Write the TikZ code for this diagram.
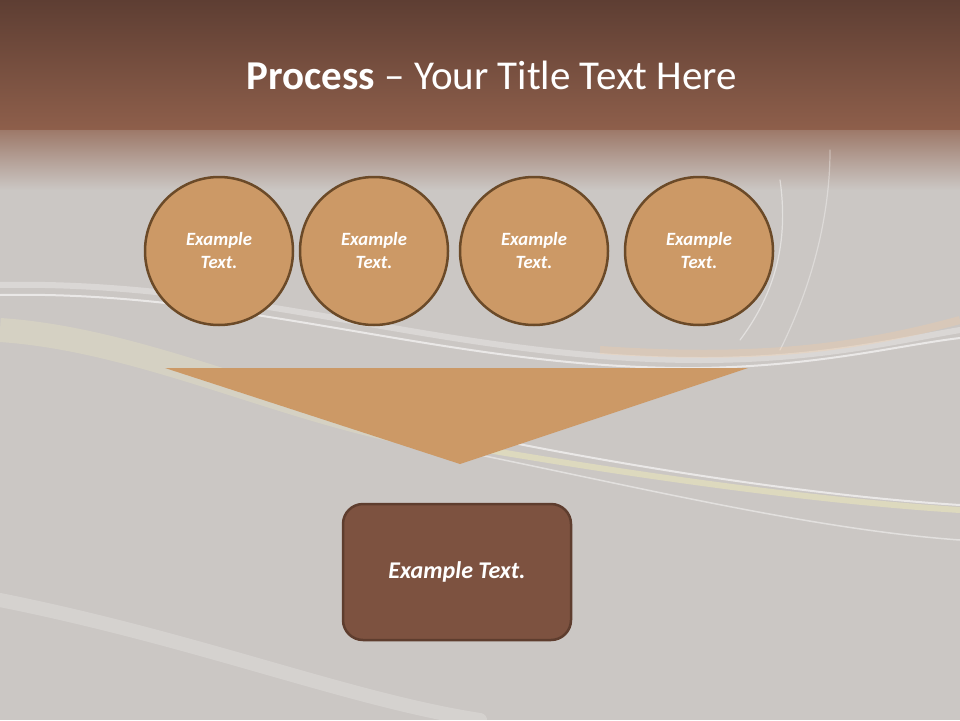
\documentclass[tikz,border=0pt]{standalone}
\usepackage{fontspec}
\setmainfont{Carlito}
\definecolor{bgg}{HTML}{CBC7C4}
\definecolor{topA}{HTML}{5E3E33}
\definecolor{topB}{HTML}{8E5F4B}
\definecolor{circfill}{HTML}{CC9966}
\definecolor{circline}{HTML}{6B4A28}
\definecolor{boxfill}{HTML}{7D5240}
\definecolor{boxline}{HTML}{5E3D2E}
\tikzset{
  stepcirc/.style={circle, minimum size=148pt, inner sep=0pt, fill=circfill, draw=circline, line width=2.5pt,
    text=white, align=center, font=\fontsize{18.7}{23}\selectfont\bfseries\itshape},
  resultbox/.style={rounded corners=20pt, minimum width=228pt, minimum height=136pt, inner sep=0pt,
    fill=boxfill, draw=boxline, line width=2.5pt, text=white, font=\fontsize{24}{28}\selectfont\bfseries\itshape},
  swoosh/.style={white, line cap=round},
}
\begin{document}
\begin{tikzpicture}[x=1pt,y=-1pt]
\useasboundingbox (0,0) rectangle (960,720);
% background
\fill[bgg] (0,0) rectangle (960,720);
\shade[top color=topA, bottom color=topB] (0,0) rectangle (960,130);
\shade[top color=topB!75!bgg, bottom color=bgg] (0,130) rectangle (960,190);
% swooshes
\draw[swoosh, line width=6pt, opacity=0.3] (0,285) .. controls (250,280) and (450,360) .. (700,360) .. controls (820,360) and (900,340) .. (960,330);
\draw[swoosh, line width=2pt, opacity=0.6] (0,295) .. controls (250,290) and (450,370) .. (700,368) .. controls (820,366) and (900,345) .. (960,338);
\draw[yellow!25!white, line width=24pt, opacity=0.2] (0,330) .. controls (150,340) and (300,420) .. (450,440);
\draw[yellow!30!white, line width=6pt, opacity=0.35] (430,440) .. controls (600,470) and (800,500) .. (960,510);
\draw[swoosh, line width=2pt, opacity=0.6] (450,430) .. controls (600,462) and (800,495) .. (960,505);
\draw[swoosh, line width=1.5pt, opacity=0.45] (480,455) .. controls (650,490) and (820,530) .. (960,540);
\draw[swoosh, line width=14pt, opacity=0.2] (0,600) .. controls (200,640) and (350,700) .. (480,720);
\draw[swoosh, line width=1.2pt, opacity=0.45] (780,180) .. controls (790,250) and (770,300) .. (740,340);
\draw[swoosh, line width=1.2pt, opacity=0.35] (830,150) .. controls (830,220) and (810,290) .. (780,350);
\draw[orange!40!white, line width=8pt, opacity=0.25] (600,350) .. controls (750,360) and (850,350) .. (960,320);
% title
\node[text=white, font=\fontsize{41}{46}\selectfont] (title) at (492,75) {\textbf{Process} – Your Title Text Here};
% circles
\node[stepcirc] (c1) at (219,251) {Example\\Text.};
\node[stepcirc] (c2) at (374,251) {Example\\Text.};
\node[stepcirc] (c3) at (534,251) {Example\\Text.};
\node[stepcirc] (c4) at (699,251) {Example\\Text.};
% funnel triangle
\coordinate (tl) at (165,368);
\coordinate (tr) at (748,368);
\coordinate (tp) at (460,464);
\fill[circfill] (tl) -- (tr) -- (tp) -- cycle;
% result box
\node[resultbox] (res) at (457,572) {\raisebox{-2pt}{Example Text.}};
\end{tikzpicture}
\end{document}
